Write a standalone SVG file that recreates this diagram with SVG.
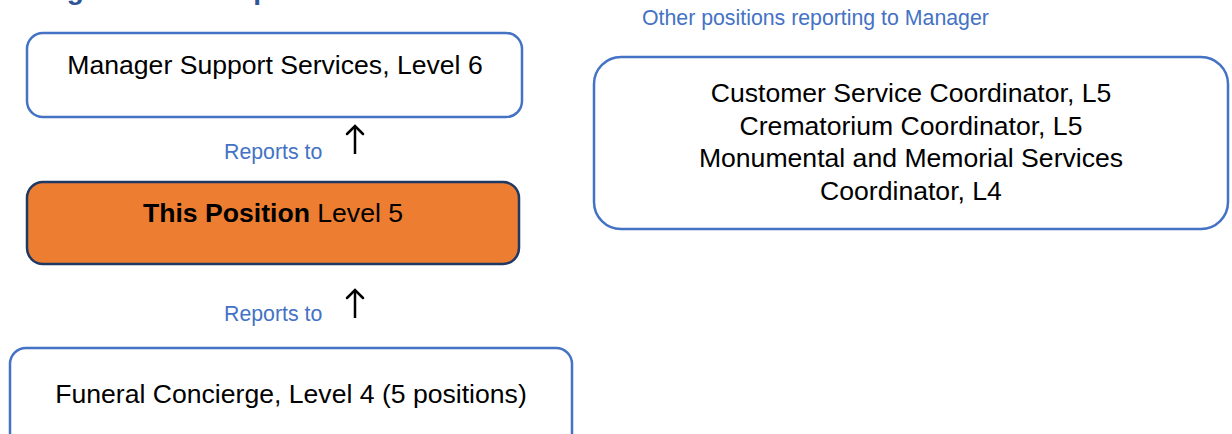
<svg xmlns="http://www.w3.org/2000/svg" width="1232" height="434" viewBox="0 0 1232 434">
  <style>
    .box { fill: #ffffff; stroke: #4472C4; stroke-width: 2.5; }
    .focus { fill: #ED7D31; stroke: #1F3864; stroke-width: 2.5; }
    .t { font-family: "Liberation Sans", Arial, sans-serif; font-size: 26.6px; fill: #000000; text-anchor: middle; }
    .lbl { font-family: "Liberation Sans", Arial, sans-serif; font-size: 21.3px; fill: #4472C4; }
    .title { font-family: "Liberation Sans", Arial, sans-serif; font-size: 28px; font-weight: bold; fill: #2F5597; }
    .conn { stroke: #000000; stroke-width: 2.5; fill: none; marker-end: url(#head); }
  </style>
  <defs>
    <marker id="head" markerUnits="userSpaceOnUse" viewBox="-11 -11 14 22" markerWidth="14" markerHeight="22" refX="0" refY="0" orient="auto" overflow="visible">
      <path d="M-8,-8 L0,0 L-8,8" fill="none" stroke="#000000" stroke-width="2.5" stroke-linecap="round" stroke-linejoin="miter"/>
    </marker>
  </defs>

  <text class="title" x="34" y="-1">Organisation Map</text>

  <g id="manager">
    <rect class="box" x="27" y="33" width="495" height="84" rx="16" ry="16"/>
    <text class="t" x="275" y="74">Manager Support Services, Level 6</text>
  </g>

  <g id="this-position">
    <rect class="focus" x="27" y="182" width="492" height="82" rx="16" ry="16"/>
    <text class="t" x="273" y="222"><tspan font-weight="bold">This Position</tspan> Level 5</text>
  </g>

  <g id="funeral-concierge">
    <rect class="box" x="10" y="348" width="562" height="110" rx="16" ry="16"/>
    <text class="t" x="291" y="403">Funeral Concierge, Level 4 (5 positions)</text>
  </g>

  <g id="other-positions">
    <text class="lbl" x="642" y="25">Other positions reporting to Manager</text>
    <rect class="box" x="594" y="57" width="634" height="172" rx="27" ry="27"/>
    <text class="t" x="911" y="102">Customer Service Coordinator, L5</text>
    <text class="t" x="911" y="135">Crematorium Coordinator, L5</text>
    <text class="t" x="911" y="167">Monumental and Memorial Services</text>
    <text class="t" x="911" y="200">Coordinator, L4</text>
  </g>

  <g id="connectors">
    <text class="lbl" x="224" y="159">Reports to</text>
    <path class="conn" d="M355,154 L355,126"/>
    <text class="lbl" x="224" y="321">Reports to</text>
    <path class="conn" d="M355,318 L355,290"/>
  </g>
</svg>
